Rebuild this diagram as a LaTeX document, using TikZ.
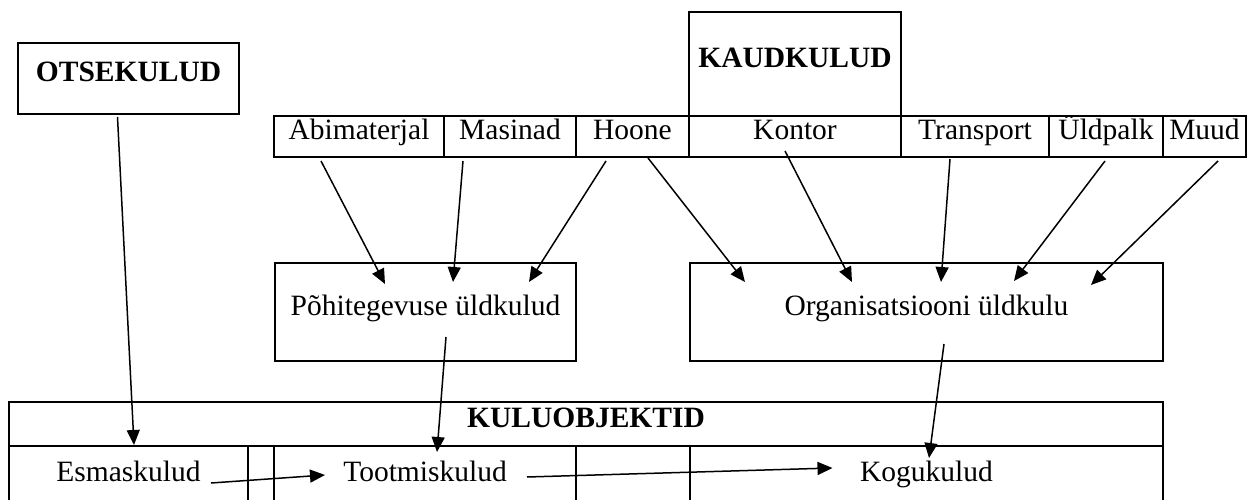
\documentclass[tikz,border=0pt]{standalone}
\usepackage{fontspec}
\setmainfont{Liberation Serif}
\usetikzlibrary{arrows.meta,calc}
\tikzset{
  cell/.style={draw, line width=2pt, inner sep=0pt, text height=0.7em, text depth=0pt,
    font=\fontsize{29.5}{34}\selectfont},
  head/.style={cell, font=\fontsize{29.5}{34}\selectfont\bfseries},
  arr/.style={line width=1.5pt, -{Triangle[length=15pt,width=13pt]}}
}
\begin{document}
\begin{tikzpicture}[x=1pt,y=-1pt]
\useasboundingbox (0,0) rectangle (1248,500);
%
\node[head, minimum width=221pt, minimum height=71pt] (otse) at (128.5,78.5) {OTSEKULUD};
\node[head, minimum width=212pt, minimum height=104pt] (kaud) at (795,64) {KAUDKULUD};
%
\node[cell, minimum width=170pt, minimum height=41pt] (abi) at (359,136.5) {Abimaterjal};
\node[cell, minimum width=132pt, minimum height=41pt] (mas) at (510,136.5) {Masinad};
\node[cell, minimum width=113pt, minimum height=41pt] (hoo) at (632.5,136.5) {Hoone};
\node[cell, minimum width=212pt, minimum height=41pt] (kon) at (795,136.5) {Kontor};
\node[cell, minimum width=148pt, minimum height=41pt] (tra) at (975,136.5) {Transport};
\node[cell, minimum width=114pt, minimum height=41pt] (uld) at (1106,136.5) {Üldpalk};
\node[cell, minimum width=83pt, minimum height=41pt] (muu) at (1204.5,136.5) {Muud};
%
\node[cell, minimum width=301pt, minimum height=98pt] (pohi) at (425.5,312) {Põhitegevuse üldkulud};
\node[cell, minimum width=473pt, minimum height=98pt] (org) at (926.5,312) {Organisatsiooni üldkulu};
%
\node[head, minimum width=1154pt, minimum height=44pt] (kulu) at (586,424) {KULUOBJEKTID};
\node[cell, minimum width=239pt, minimum height=64pt] (esm) at (128.5,478) {Esmaskulud};
\node[cell, minimum width=302pt, minimum height=64pt] (too) at (425,478) {Tootmiskulud};
\node[cell, minimum width=473pt, minimum height=64pt] (kog) at (926.5,478) {Kogukulud};
%
\draw[arr] ($(otse.south)+(-11,2)$) -- ($(esm.north)+(5.5,0)$);
%
\draw[arr] ($(abi.south)+(-38,3)$) -- ($(pohi.north)+(-40.5,22)$);
\draw[arr] ($(mas.south)+(-47,3)$) -- ($(pohi.north)+(27.5,20)$);
\draw[arr] ($(hoo.south)+(-26.5,3)$) -- ($(pohi.north)+(103.5,20)$);
%
\draw[arr] ($(hoo.south)+(15.5,0)$) -- ($(org.north)+(-181.5,20)$);
\draw[arr] ($(kon.south)+(-10,-7)$) -- ($(org.north)+(-74.5,20)$);
\draw[arr] ($(tra.south)+(-25,1)$) -- ($(org.north)+(14.5,20)$);
\draw[arr] ($(uld.south)+(-1,3)$) -- ($(org.north)+(87.5,19)$);
\draw[arr] ($(muu.south)+(13.5,3)$) -- ($(org.north)+(164.5,23)$);
%
\draw[arr] ($(pohi.center)+(20.5,25)$) -- ($(too.north)+(12,7)$);
\draw[arr] ($(org.center)+(17.5,32)$) -- ($(kog.north)+(2.5,13)$);
%
\draw[arr] ($(esm.center)+(82.5,5)$) -- ($(too.center)+(-100,-3)$);
\draw[arr] ($(too.center)+(102,-1)$) -- ($(kog.center)+(-94,-10)$);
\end{tikzpicture}
\end{document}
